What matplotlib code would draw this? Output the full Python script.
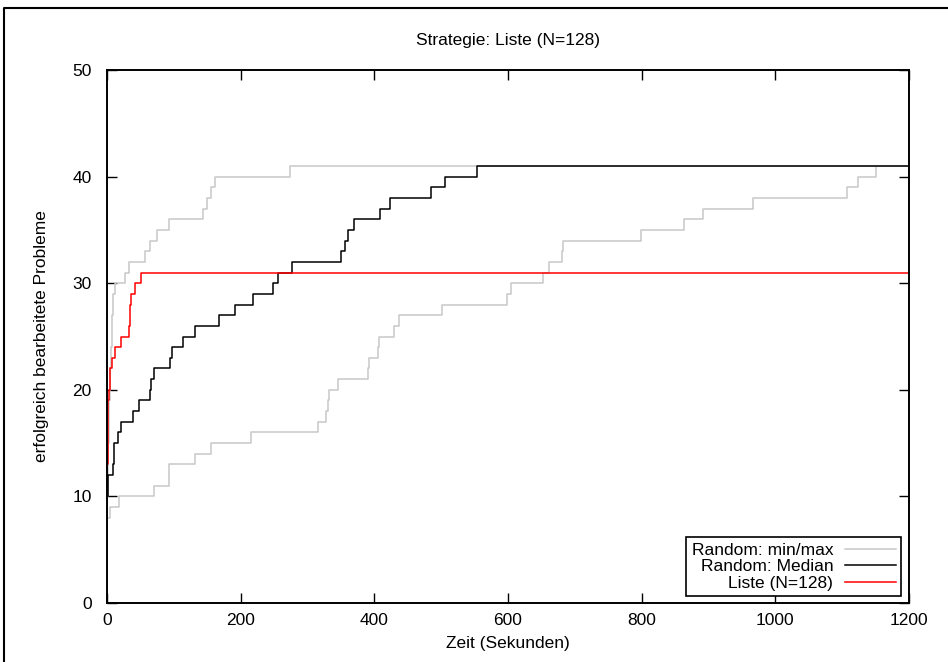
import matplotlib
matplotlib.use('Agg')
import matplotlib.pyplot as plt
from matplotlib.lines import Line2D

plt.rcParams['font.family'] = ['Liberation Sans', 'DejaVu Sans']

# Zeitpunkte (Sekunden) und Anzahl geloester Probleme, Treppenfunktionen
t_max = [0, 0.5, 1.5, 2.5, 4.5, 6, 7, 8, 9.5, 12, 27, 33.5, 57, 64, 75, 93,
         144, 150, 156, 162, 274, 1200]
v_max = [7, 10, 15, 19, 22, 24, 26, 27, 29, 30, 31, 32, 33, 34, 35, 36,
         37, 38, 39, 40, 41, 41]

t_min = [0, 0.5, 4.5, 18.5, 71, 93, 93.5, 132, 155, 216, 315, 328, 331, 332,
         346, 390, 392, 405, 407, 430, 437.5, 501, 599, 604, 653, 662, 681,
         682, 799, 864, 892, 967, 1107, 1124, 1151, 1200]
v_min = [7, 8, 9, 10, 11, 12, 13, 14, 15, 16, 17, 18, 19, 20,
         21, 22, 23, 24, 25, 26, 27, 28, 29, 30, 31, 32, 33,
         34, 35, 36, 37, 38, 39, 40, 41, 41]

t_med = [0, 0.5, 2, 8.5, 10.5, 17, 20.5, 39, 48, 64, 65.5, 70, 94, 98, 113,
         132, 167, 191.6, 219, 248, 256, 276.5, 350, 356, 360, 370, 409, 424,
         484.6, 506, 553.4, 1200]
v_med = [8, 10, 12, 13, 15, 16, 17, 18, 19, 20, 21, 22, 23, 24, 25,
         26, 27, 28, 29, 30, 31, 32, 33, 34, 35, 36, 37, 38,
         39, 40, 41, 41]

t_liste = [0, 1.2, 2.5, 4.5, 7, 12, 20.5, 33.5, 34.3, 35, 35.5, 42, 50.5, 1200]
v_liste = [13, 19, 20, 22, 23, 24, 25, 26, 27, 28, 29, 30, 31, 31]

fs = 12.5
fig = plt.figure(figsize=(9.48, 6.62), dpi=100)
ax = fig.add_axes([107 / 948, 1 - 603 / 662, 802 / 948, 533 / 662])

grau = '#c8c8c8'
ax.step(t_max, v_max, where='post', color=grau, lw=1.1, label='Random: min/max')
ax.step(t_min, v_min, where='post', color=grau, lw=1.1)
ax.step(t_med, v_med, where='post', color='black', lw=1.1, label='Random: Median')
ax.step(t_liste, v_liste, where='post', color='red', lw=1.1, label='Liste (N=128)')

ax.set_xlim(0, 1200)
ax.set_ylim(0, 50)
ax.set_xticks(range(0, 1201, 200))
ax.set_yticks(range(0, 51, 10))
ax.tick_params(direction='in', length=7, width=1, top=True, right=True,
               labelsize=fs, pad=7)
ax.tick_params(axis='y', pad=11)
for s in ax.spines.values():
    s.set_linewidth(1.4)

ax.set_title('Strategie: Liste (N=128)', fontsize=fs, pad=18)
ax.set_xlabel('Zeit (Sekunden)', fontsize=fs, labelpad=6)
ax.set_ylabel('erfolgreich bearbeitete Probleme', fontsize=fs, labelpad=17)

leg = ax.legend(loc='lower right', bbox_to_anchor=(1 - 8 / 802, 7 / 533),
                borderaxespad=0, markerfirst=False, fontsize=fs,
                fancybox=False, framealpha=1, edgecolor='black',
                handlelength=2.9, handletextpad=0.7, labelspacing=0.08,
                borderpad=0.3)
leg.get_frame().set_linewidth(1.2)

# aeusserer Rahmen (oben und links)
fig.add_artist(Line2D([4 / 948, 4 / 948, 1.0], [0.0, 1 - 8 / 662, 1 - 8 / 662],
                      transform=fig.transFigure, color='black', lw=1.5))

fig.savefig('out.png', dpi=100)
